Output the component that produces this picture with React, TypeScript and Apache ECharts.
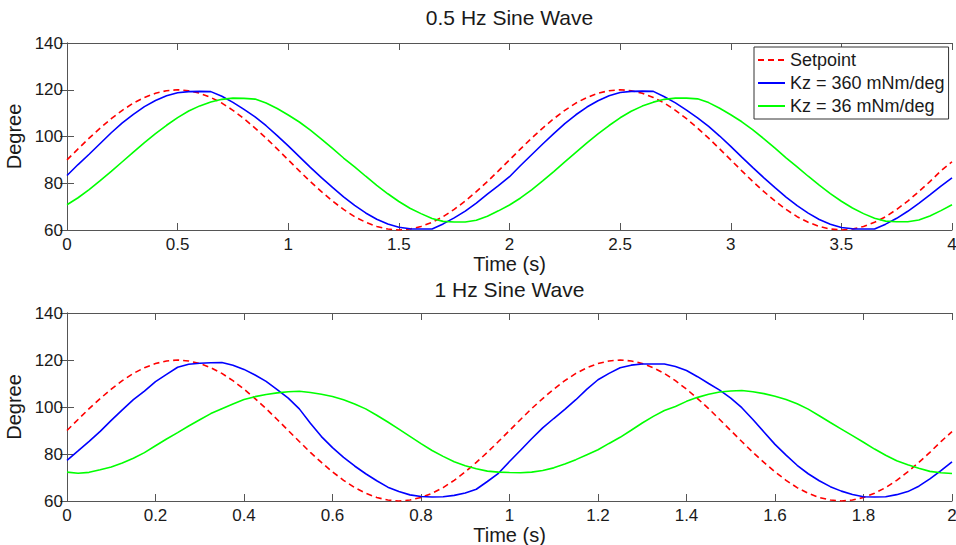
import React, { useEffect, useRef } from "react";
import * as echarts from "echarts";

// Sample times (s)
const timeTop = Array.from({ length: 81 }, (_, i) => +(i * 0.05).toFixed(2));
const timeBottom = Array.from({ length: 81 }, (_, i) => +(i * 0.025).toFixed(3));

// 0.5 Hz sine wave (top plot), values in degrees, every 0.05 s from 0 to 4 s
const setpointTop = [
  90, 94.7, 99.3, 103.6, 107.6, 111.2, 114.3, 116.7, 118.5, 119.6,
  120, 119.6, 118.5, 116.7, 114.3, 111.2, 107.6, 103.6, 99.3, 94.7,
  90, 85.3, 80.7, 76.4, 72.4, 68.8, 65.7, 63.3, 61.5, 60.4,
  60, 60.4, 61.5, 63.3, 65.7, 68.8, 72.4, 76.4, 80.7, 85.3,
  90, 94.7, 99.3, 103.6, 107.6, 111.2, 114.3, 116.7, 118.5, 119.6,
  120, 119.6, 118.5, 116.7, 114.3, 111.2, 107.6, 103.6, 99.3, 94.7,
  90, 85.3, 80.7, 76.4, 72.4, 68.8, 65.7, 63.3, 61.5, 60.4,
  60, 60.4, 61.5, 63.3, 65.7, 68.8, 72.4, 76.4, 80.7, 85.3,
  89.2,
];
const kz360Top = [
  83.3, 88.0, 92.4, 97.0, 101.6, 105.8, 109.5, 112.8, 115.4, 117.4,
  118.7, 119.2, 119.3, 119.2, 117.2, 114.6, 111.6, 108.4, 104.6, 100.4,
  96.0, 91.4, 86.8, 82.4, 78.2, 74.2, 70.5, 67.3, 64.6, 62.6,
  61.2, 60.5, 60.4, 60.4, 62.6, 65.2, 68.1, 71.5, 75.3, 79.0,
  82.8, 87.6, 92.2, 96.8, 101.2, 105.5, 109.3, 112.6, 115.3, 117.4,
  118.8, 119.3, 119.4, 119.3, 117.0, 114.4, 111.3, 108.0, 104.3, 100.2,
  95.8, 91.2, 86.7, 82.3, 78.1, 74.1, 70.4, 67.2, 64.5, 62.5,
  61.1, 60.5, 60.4, 60.4, 62.5, 65.0, 68.0, 71.4, 75.0, 78.8,
  82.3,
];
const kz36Top = [
  70.8, 73.8, 77.3, 81.1, 85.1, 89.2, 93.3, 97.4, 101.2, 104.8,
  108.1, 110.9, 113.1, 114.8, 115.9, 116.4, 116.3, 116.0, 114.3, 112.0,
  109.2, 106.2, 102.7, 98.9, 94.9, 90.8, 87.0, 83.0, 79.1, 75.5,
  72.2, 69.3, 67.0, 64.9, 63.7, 63.4, 63.4, 64.2, 65.9, 68.2,
  70.7, 73.7, 77.2, 81.0, 85.0, 89.1, 93.2, 97.3, 101.1, 104.7,
  108.0, 110.8, 113.0, 114.7, 115.9, 116.4, 116.4, 116.1, 114.5, 112.1,
  109.3, 106.3, 102.8, 99.0, 95.0, 90.9, 87.0, 83.0, 79.2, 75.6,
  72.3, 69.4, 67.0, 65.0, 63.8, 63.5, 63.5, 64.3, 66.0, 68.3,
  70.8,
];

// 1 Hz sine wave (bottom plot), values in degrees, every 0.025 s from 0 to 2 s
const setpointBottom = [
  90, 94.7, 99.3, 103.6, 107.6, 111.2, 114.3, 116.7, 118.5, 119.6,
  120, 119.6, 118.5, 116.7, 114.3, 111.2, 107.6, 103.6, 99.3, 94.7,
  90, 85.3, 80.7, 76.4, 72.4, 68.8, 65.7, 63.3, 61.5, 60.4,
  60, 60.4, 61.5, 63.3, 65.7, 68.8, 72.4, 76.4, 80.7, 85.3,
  90, 94.7, 99.3, 103.6, 107.6, 111.2, 114.3, 116.7, 118.5, 119.6,
  120, 119.6, 118.5, 116.7, 114.3, 111.2, 107.6, 103.6, 99.3, 94.7,
  90, 85.3, 80.7, 76.4, 72.4, 68.8, 65.7, 63.3, 61.5, 60.4,
  60, 60.4, 61.5, 63.3, 65.7, 68.8, 72.4, 76.4, 80.7, 85.3,
  89.5,
];
const kz360Bottom = [
  77.3, 81.3, 85.4, 89.6, 94.3, 98.8, 103.1, 106.8, 110.8, 113.9,
  116.9, 118.2, 118.6, 118.8, 118.9, 117.8, 116.0, 113.6, 110.9, 107.4,
  103.8, 99.2, 93.1, 87.4, 82.7, 78.6, 74.9, 71.6, 68.6, 65.9,
  64.0, 62.6, 61.9, 61.7, 61.8, 62.4, 63.4, 65.0, 68.3, 71.8,
  76.8, 81.6, 86.5, 91.1, 95.1, 99.0, 103.1, 107.6, 111.6, 114.3,
  116.7, 117.8, 118.3, 118.3, 118.3, 117.2, 115.5, 112.9, 110.0, 107.2,
  103.8, 99.7, 94.7, 89.4, 84.1, 79.5, 75.2, 71.6, 68.6, 66.1,
  64.2, 62.8, 61.8, 61.7, 61.8, 62.7, 64.0, 66.3, 69.4, 72.9,
  76.7,
];
const kz36Bottom = [
  72.3, 71.8, 72.2, 73.3, 74.5, 76.2, 78.2, 80.6, 83.5, 86.4,
  89.1, 91.9, 94.6, 97.2, 99.3, 101.3, 103.2, 104.4, 105.3, 106.0,
  106.5, 106.7, 106.2, 105.4, 104.5, 103.1, 101.3, 99.2, 96.5, 93.6,
  90.6, 87.5, 84.4, 81.5, 79.0, 76.7, 75.0, 73.7, 72.7, 72.3,
  72.1, 72.0, 72.3, 73.0, 74.1, 75.7, 77.6, 79.7, 81.8, 84.5,
  87.1, 90.1, 93.2, 96.0, 98.5, 100.2, 102.4, 104.1, 105.4, 106.4,
  106.8, 107.0, 106.5, 105.7, 104.6, 103.2, 101.4, 99.1, 96.3, 93.4,
  90.6, 87.8, 85.0, 82.1, 79.5, 77.1, 75.4, 73.9, 72.6, 72.0,
  71.7,
];

const seriesNames = ["Setpoint", "Kz = 360 mNm/deg", "Kz = 36 mNm/deg"];
const titles = ["0.5 Hz Sine Wave", "1 Hz Sine Wave"];
const xAxisName = "Time (s)";
const yAxisName = "Degree";

const FONT = "'Liberation Sans', Arial, Helvetica, sans-serif";
const TEXT = "#1a1a1a";
const AXIS = "#555555";

const pairs = (t: number[], v: number[]) => t.map((x, i) => [x, v[i]]);

export default function App() {
  const ref = useRef<HTMLDivElement>(null);

  useEffect(() => {
    document.body.style.margin = "0";
    if (!ref.current) return;
    const chart = echarts.init(ref.current, null, { renderer: "svg" });

    const grids = [
      { left: 67, top: 43, width: 885, height: 187, outerBoundsMode: "none", containLabel: false },
      { left: 67, top: 313, width: 885, height: 188, outerBoundsMode: "none", containLabel: false },
    ];

    const xBase = (gridIndex: number, max: number, interval: number, position: string, labels: boolean) => ({
      type: "value",
      gridIndex,
      min: 0,
      max,
      interval,
      position,
      name: labels ? xAxisName : "",
      nameLocation: "middle",
      nameGap: 23,
      nameTextStyle: { fontSize: 20, color: TEXT, fontFamily: FONT },
      axisLine: { show: true, lineStyle: { color: AXIS, width: 1 } },
      axisTick: { show: true, inside: true, length: 7, lineStyle: { color: AXIS } },
      axisLabel: { show: labels, fontSize: 17, color: TEXT, fontFamily: FONT, margin: 6 },
      splitLine: { show: false },
    });
    const yBase = (gridIndex: number, position: string, labels: boolean) => ({
      type: "value",
      gridIndex,
      min: 60,
      max: 140,
      interval: 20,
      position,
      name: labels ? yAxisName : "",
      nameLocation: "middle",
      nameGap: 39,
      nameTextStyle: { fontSize: 20, color: TEXT, fontFamily: FONT },
      axisLine: { show: true, lineStyle: { color: AXIS, width: 1 } },
      axisTick: { show: true, inside: true, length: 7, lineStyle: { color: AXIS } },
      axisLabel: { show: labels, fontSize: 17, color: TEXT, fontFamily: FONT, margin: 4 },
      splitLine: { show: false },
    });

    const lineSeries = (name: string, data: number[][], gi: number, color: string, dashed: boolean) => ({
      name,
      type: "line",
      xAxisIndex: gi * 2,
      yAxisIndex: gi * 2,
      data,
      symbol: "none",
      showSymbol: false,
      smooth: false,
      lineStyle: { color, width: 1.6, type: dashed ? [6, 4] : "solid" },
      itemStyle: { color },
      emphasis: { disabled: true },
    });

    chart.setOption({
      animation: false,
      backgroundColor: "#ffffff",
      textStyle: { fontFamily: FONT },
      title: [
        {
          text: titles[0],
          left: 509.5,
          top: 7,
          padding: 0,
          textAlign: "center",
          textStyle: { fontSize: 21, fontWeight: "normal", color: TEXT, fontFamily: FONT },
        },
        {
          text: titles[1],
          left: 509.5,
          top: 279,
          padding: 0,
          textAlign: "center",
          textStyle: { fontSize: 21, fontWeight: "normal", color: TEXT, fontFamily: FONT },
        },
      ],
      grid: grids,
      xAxis: [
        xBase(0, 4, 0.5, "bottom", true),
        xBase(0, 4, 0.5, "top", false),
        xBase(1, 2, 0.2, "bottom", true),
        xBase(1, 2, 0.2, "top", false),
      ],
      yAxis: [
        yBase(0, "left", true),
        yBase(0, "right", false),
        yBase(1, "left", true),
        yBase(1, "right", false),
      ],
      legend: {
        data: seriesNames,
        orient: "vertical",
        left: 754,
        top: 47,
        padding: [3, 4, 3, 3],
        itemWidth: 27,
        itemHeight: 14,
        itemGap: 3,
        itemStyle: { opacity: 0 },
        backgroundColor: "#ffffff",
        borderColor: "#333333",
        borderWidth: 1,
        borderRadius: 0,
        selectedMode: false,
        textStyle: { fontSize: 18, color: TEXT, fontFamily: FONT, lineHeight: 20 },
      },
      series: [
        lineSeries(seriesNames[0], pairs(timeTop, setpointTop), 0, "#ff0000", true),
        lineSeries(seriesNames[1], pairs(timeTop, kz360Top), 0, "#0000ff", false),
        lineSeries(seriesNames[2], pairs(timeTop, kz36Top), 0, "#00ff00", false),
        lineSeries(seriesNames[0], pairs(timeBottom, setpointBottom), 1, "#ff0000", true),
        lineSeries(seriesNames[1], pairs(timeBottom, kz360Bottom), 1, "#0000ff", false),
        lineSeries(seriesNames[2], pairs(timeBottom, kz36Bottom), 1, "#00ff00", false),
      ],
    });

    return () => chart.dispose();
  }, []);

  return <div ref={ref} style={{ width: 956, height: 545 }} />;
}
